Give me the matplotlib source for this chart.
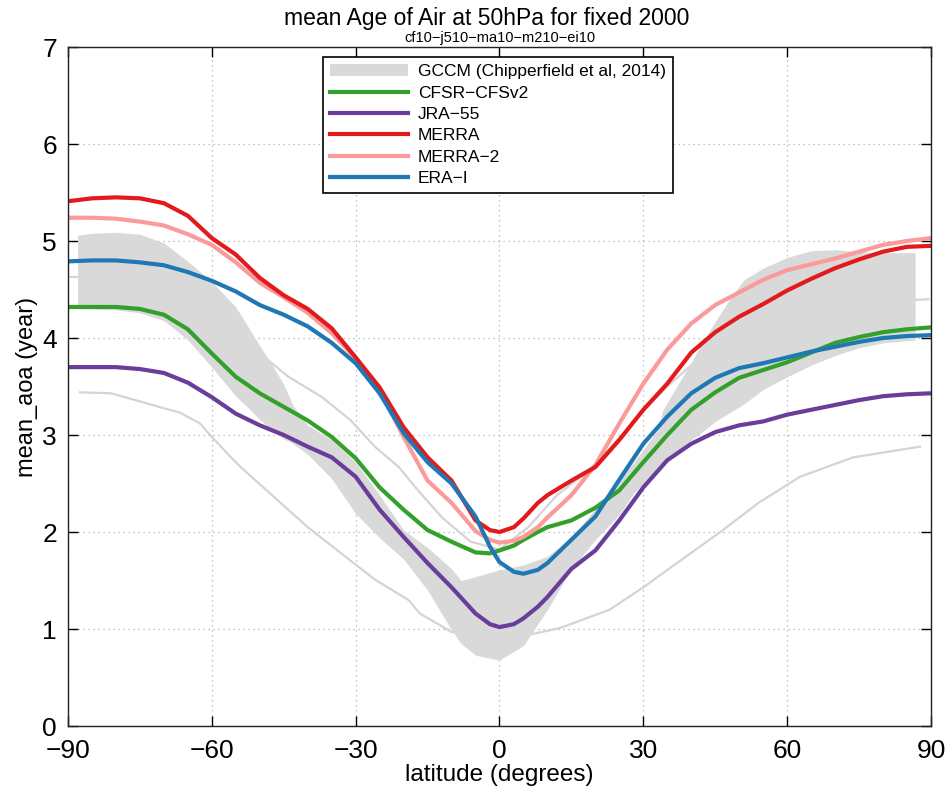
from __future__ import annotations

from pathlib import Path

import matplotlib

matplotlib.use("Agg")

import matplotlib.pyplot as plt

# latitude grid shared by the reanalysis curves
lat = [-90, -85, -80, -75, -70, -65, -60, -55, -50, -45, -40, -35, -30, -25, -20,
       -15, -10, -5, -2, 0, 3, 5, 8, 10, 15, 20, 25, 30, 35, 40, 45, 50, 55, 60,
       65, 70, 75, 80, 85, 90]

cfsr = [4.32, 4.32, 4.32, 4.30, 4.24, 4.09, 3.84, 3.60, 3.43, 3.29, 3.15, 2.98,
        2.76, 2.46, 2.23, 2.02, 1.90, 1.79, 1.78, 1.81, 1.86, 1.92, 2.00, 2.05,
        2.12, 2.25, 2.43, 2.72, 3.00, 3.26, 3.44, 3.59, 3.67, 3.75, 3.85, 3.95,
        4.01, 4.06, 4.09, 4.11]
jra55 = [3.70, 3.70, 3.70, 3.68, 3.64, 3.54, 3.39, 3.22, 3.10, 3.00, 2.88, 2.77,
         2.57, 2.23, 1.95, 1.68, 1.43, 1.16, 1.05, 1.02, 1.05, 1.11, 1.23, 1.33,
         1.62, 1.81, 2.12, 2.46, 2.74, 2.91, 3.03, 3.10, 3.14, 3.21, 3.26, 3.31,
         3.36, 3.40, 3.42, 3.43]
merra = [5.41, 5.44, 5.45, 5.44, 5.39, 5.26, 5.03, 4.86, 4.62, 4.44, 4.30, 4.10,
         3.80, 3.49, 3.08, 2.77, 2.53, 2.12, 2.02, 2.00, 2.05, 2.14, 2.30, 2.38,
         2.53, 2.67, 2.95, 3.26, 3.53, 3.85, 4.06, 4.22, 4.35, 4.49, 4.61, 4.72,
         4.81, 4.89, 4.94, 4.95]
merra2 = [5.24, 5.24, 5.23, 5.20, 5.16, 5.07, 4.96, 4.78, 4.57, 4.42, 4.26, 4.05,
          3.79, 3.46, 2.98, 2.53, 2.30, 2.01, 1.92, 1.89, 1.91, 1.95, 2.05, 2.15,
          2.38, 2.69, 3.12, 3.53, 3.88, 4.15, 4.34, 4.47, 4.60, 4.70, 4.76, 4.82,
          4.89, 4.96, 5.00, 5.03]
erai = [4.79, 4.80, 4.80, 4.78, 4.75, 4.68, 4.59, 4.48, 4.34, 4.24, 4.12, 3.95,
        3.74, 3.43, 3.02, 2.72, 2.50, 2.16, 1.85, 1.69, 1.59, 1.57, 1.61, 1.68,
        1.92, 2.16, 2.54, 2.91, 3.19, 3.43, 3.59, 3.69, 3.74, 3.80, 3.86, 3.91,
        3.96, 4.00, 4.02, 4.03]

# GCCM envelope (Chipperfield et al, 2014)
gccm_lat = [-88, -85, -80, -75, -70, -65, -60, -55, -52, -50, -48, -45, -43, -40,
            -35, -30, -25, -20, -15, -10, -8, -5, 0, 5, 10, 15, 20, 25, 28, 30,
            33, 34, 36, 40, 42, 45, 48, 51, 55, 60, 65, 70, 75, 80, 86.7]
gccm_hi = [5.06, 5.08, 5.09, 5.07, 4.98, 4.79, 4.58, 4.32, 4.08, 3.92, 3.77,
           3.52, 3.30, 3.10, 2.95, 2.72, 2.38, 2.02, 1.84, 1.62, 1.50, 1.54, 1.61,
           1.66, 1.75, 1.95, 2.24, 2.55, 2.72, 2.85, 3.05, 3.25, 3.42, 3.75, 3.93,
           4.17, 4.40, 4.60, 4.72, 4.83, 4.90, 4.91, 4.89, 4.88, 4.88]
gccm_lo = [4.30, 4.30, 4.29, 4.26, 4.18, 3.98, 3.70, 3.40, 3.26, 3.16, 3.07,
           2.96, 2.91, 2.80, 2.55, 2.19, 1.94, 1.72, 1.40, 0.99, 0.85, 0.73, 0.68,
           0.83, 1.20, 1.62, 1.92, 2.18, 2.40, 2.50, 2.64, 2.69, 2.78, 2.95, 3.02,
           3.14, 3.23, 3.32, 3.47, 3.60, 3.72, 3.82, 3.90, 3.95, 3.98]

# thin light-grey reference curves
ref_hi_lat = [-89.5, -80, -70, -60, -50, -48, -44, -37, -31, -26, -21, -17, -12,
              -6, 0, 6, 12, 17, 20, 25, 30, 35, 40, 45, 50, 60, 75, 89.5]
ref_hi = [4.63, 4.62, 4.50, 4.20, 3.85, 3.76, 3.60, 3.39, 3.15, 2.88, 2.67,
          2.43, 2.15, 1.90, 1.82, 2.05, 2.38, 2.57, 2.70, 2.97, 3.25, 3.50, 3.72,
          3.95, 4.10, 4.25, 4.36, 4.40]
ref_lo_lat = [-87.5, -81, -71, -66.6, -62.5, -60, -56, -54, -47, -40, -33, -26,
              -19, -16.6, -10, -5, 0, 6, 12.6, 17, 23, 30, 37, 46.6, 54, 62.7,
              73.8, 87.7]
ref_lo = [3.44, 3.43, 3.29, 3.23, 3.12, 2.98, 2.77, 2.67, 2.36, 2.05, 1.78, 1.51,
          1.30, 1.16, 0.97, 0.92, 0.90, 0.94, 1.01, 1.09, 1.20, 1.43, 1.68, 2.02,
          2.30, 2.57, 2.77, 2.88]

lat_ticks = [-90, -60, -30, 0, 30, 60, 90]
aoa_ticks = [0, 1, 2, 3, 4, 5, 6, 7]


def main() -> None:
    plt.rcParams["font.family"] = ["Liberation Sans", "DejaVu Sans"]
    plt.rcParams["axes.unicode_minus"] = True

    fig = plt.figure(figsize=(9.46, 7.94), dpi=100)
    ax = fig.add_axes([0.0719, 0.0856, 0.9122, 0.8552])

    ax.plot(ref_hi_lat, ref_hi, color="#d4d4d4", lw=1.6, zorder=1)
    ax.plot(ref_lo_lat, ref_lo, color="#d4d4d4", lw=1.6, zorder=1)
    ax.fill_between(gccm_lat, gccm_lo, gccm_hi, color="#d9d9d9", lw=0,
                    zorder=2, label="GCCM (Chipperfield et al, 2014)")

    ax.plot(lat, cfsr, color="#33a02c", lw=3, zorder=3, label="CFSR−CFSv2")
    ax.plot(lat, jra55, color="#6a3d9a", lw=3, zorder=3, label="JRA−55")
    ax.plot(lat, merra, color="#e31a1c", lw=3, zorder=3.2, label="MERRA")
    ax.plot(lat, merra2, color="#fb9a99", lw=3, zorder=3.1, label="MERRA−2")
    ax.plot(lat, erai, color="#1f78b4", lw=3, zorder=3.3, label="ERA−I")

    ax.set_xlim(-90, 90)
    ax.set_ylim(0, 7)
    ax.set_xticks(lat_ticks)
    ax.set_yticks(aoa_ticks)
    ax.set_xticklabels([str(t).replace("-", "−") for t in lat_ticks])
    ax.grid(True, color="#b0b0b0", lw=0.9, linestyle=(0, (1, 3)))
    ax.set_axisbelow(True)
    ax.tick_params(direction="in", length=7, width=1, top=True, right=True,
                   labelsize=19, colors="black")
    ax.tick_params(axis="x", pad=9)
    ax.tick_params(axis="y", pad=8)
    for sp in ax.spines.values():
        sp.set_linewidth(1.0)
        sp.set_color("#222222")
        sp.set_zorder(5)

    ax.set_xlabel("latitude (degrees)", fontsize=17.5, labelpad=1)
    ax.set_ylabel("mean_aoa (year)", fontsize=17, labelpad=3)

    fig.text(0.514, 0.977, "mean Age of Air at 50hPa for fixed 2000",
             ha="center", va="center", fontsize=16.5)
    fig.text(0.529, 0.952, "cf10−j510−ma10−m210−ei10",
             ha="center", va="center", fontsize=10.5)

    leg = ax.legend(loc="upper center", bbox_to_anchor=(0.4985, 0.985),
                    borderaxespad=0, fontsize=12.5, frameon=True, fancybox=False,
                    edgecolor="black", framealpha=1, handlelength=4.5,
                    handletextpad=0.55, labelspacing=0.36, borderpad=0.4)
    leg.get_frame().set_linewidth(1.2)
    leg.set_zorder(6)

    out_path = Path("out.png")
    fig.savefig(out_path, dpi=100)
    plt.close(fig)
    print(f"saved: {out_path}")


if __name__ == "__main__":
    main()
